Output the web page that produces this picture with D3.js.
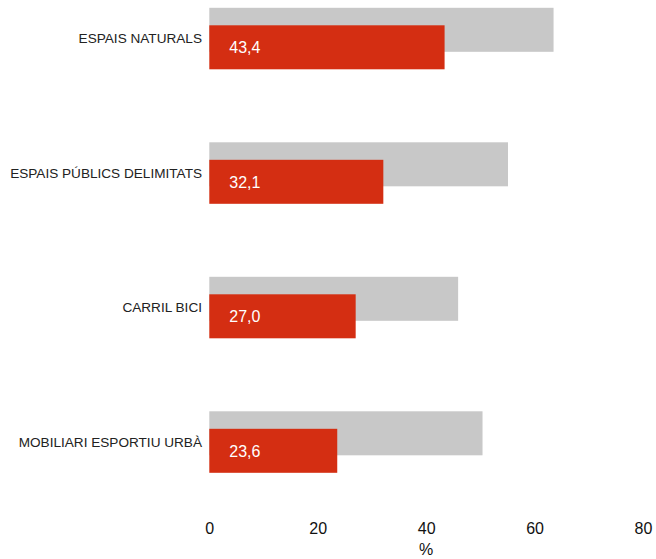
<!DOCTYPE html>
<html>
<head>
<meta charset="utf-8">
<script src="https://cdn.jsdelivr.net/npm/d3@7"></script>
<style>
  body { margin: 0; background: #fff; }
  text { font-family: "Liberation Sans", Arial, sans-serif; }
</style>
</head>
<body>
<div id="chart"></div>
<script>
// Data
const categories = ['ESPAIS NATURALS', 'ESPAIS PÚBLICS DELIMITATS', 'CARRIL BICI', 'MOBILIARI ESPORTIU URBÀ'];
const redValues = [43.4, 32.1, 27.0, 23.6];
const grayValues = [63.5, 55.1, 45.9, 50.4];
const xTicks = [0, 20, 40, 60, 80];

const config = {
    width: 656,
    height: 559,
    barHeight: 44,
    redOffset: 17.5
};

const svg = d3.select('#chart').append('svg')
    .attr('width', config.width)
    .attr('height', config.height);

const xScale = d3.scaleLinear()
    .domain([0, 80])
    .range([209.3, 643]);

// band centres sit at ~38.5, 173, 307, 442
const yScale = d3.scaleBand()
    .domain(categories)
    .range([-28.7, 509.3]);

const rows = categories.map((c, i) => ({ cat: c, red: redValues[i], gray: grayValues[i] }));
const center = d => yScale(d.cat) + yScale.bandwidth() / 2;
const blockTop = d => center(d) - (config.barHeight + config.redOffset) / 2;

// gray (reference) bars
svg.append('g').selectAll('rect')
    .data(rows)
    .join('rect')
    .attr('x', xScale(0))
    .attr('y', d => blockTop(d))
    .attr('width', d => xScale(d.gray) - xScale(0))
    .attr('height', config.barHeight)
    .attr('fill', '#c8c8c8');

// red bars
svg.append('g').selectAll('rect')
    .data(rows)
    .join('rect')
    .attr('x', xScale(0))
    .attr('y', d => blockTop(d) + config.redOffset)
    .attr('width', d => xScale(d.red) - xScale(0))
    .attr('height', config.barHeight)
    .attr('fill', '#d42e12');

// value labels inside red bars
svg.append('g').selectAll('text')
    .data(rows)
    .join('text')
    .attr('x', xScale(0) + 20)
    .attr('y', d => blockTop(d) + config.redOffset + config.barHeight / 2)
    .attr('dy', '0.36em')
    .attr('fill', '#fff')
    .style('font-size', '16px')
    .text(d => d3.format('.1f')(d.red).replace('.', ','));

// category labels
svg.append('g').selectAll('text')
    .data(rows)
    .join('text')
    .attr('x', 202)
    .attr('y', d => center(d))
    .attr('dy', '0.36em')
    .attr('text-anchor', 'end')
    .attr('fill', '#222')
    .style('font-size', '13.6px')
    .text(d => d.cat);

// x axis: labels only
const xAxis = d3.axisBottom(xScale)
    .tickValues(xTicks)
    .tickSize(0)
    .tickPadding(0);

svg.append('g')
    .attr('transform', 'translate(0,523)')
    .call(xAxis)
    .call(g => g.select('.domain').remove())
    .call(g => g.selectAll('.tick text')
        .attr('fill', '#111')
        .style('font-size', '16px')
        .style('font-family', '"Liberation Sans", Arial, sans-serif'));

svg.append('text')
    .attr('x', xScale(40))
    .attr('y', 555)
    .attr('text-anchor', 'middle')
    .attr('fill', '#111')
    .style('font-size', '16px')
    .text('%');
</script>
</body>
</html>
